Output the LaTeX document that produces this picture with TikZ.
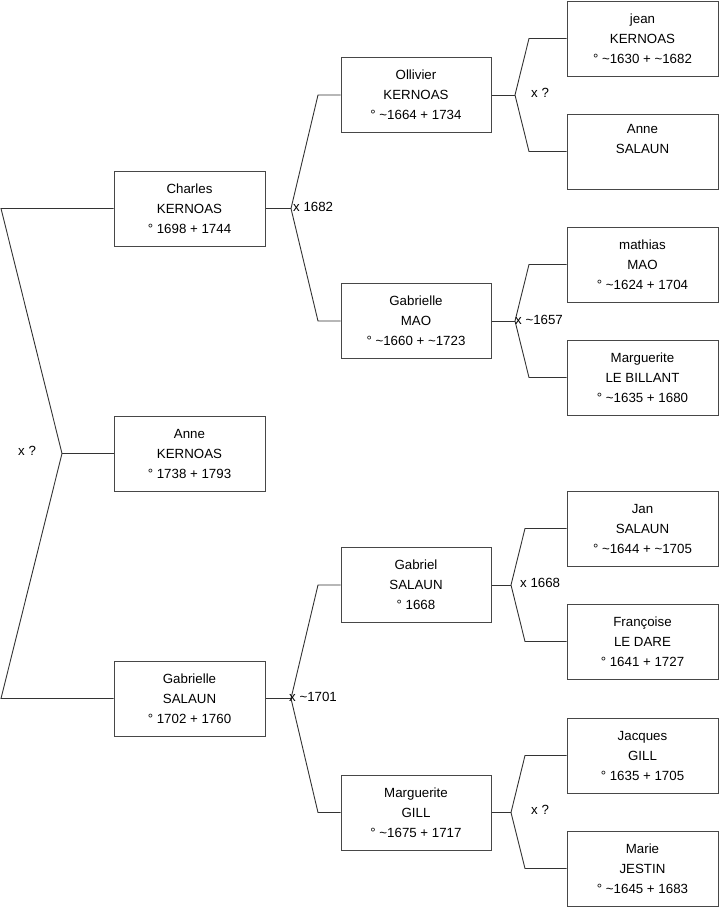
\documentclass[tikz,border=0pt]{standalone}
\usepackage{fontspec}
\setmainfont{Liberation Sans}
\newcommand\tld{\textasciitilde}
\begin{document}
\begin{tikzpicture}[x=1pt,y=-1pt,
  person/.style={draw=black!72, line width=1pt, minimum width=151pt, minimum height=75pt, inner sep=0pt, align=center, font=\fontsize{13.3}{20}\selectfont},
  link/.style={draw=black!80, line width=0.9pt},
  mlabel/.style={anchor=west, inner sep=0pt, font=\fontsize{13.3}{16}\selectfont}]
\useasboundingbox (0,0) rectangle (719,908);
% generation 1
\node[person] (charles) at (189.5,208.5) {Charles\\KERNOAS\\° 1698 + 1744};
\node[person] (anneK) at (189.5,453.5) {Anne\\KERNOAS\\° 1738 + 1793};
\node[person] (gabS) at (189.5,698.5) {Gabrielle\\SALAUN\\° 1702 + 1760};
% generation 2
\node[person, minimum width=150pt] (olliv) at (416,95) {Ollivier\\KERNOAS\\° \tld 1664 + 1734};
\node[person, minimum width=150pt] (gabM) at (416,321) {Gabrielle\\MAO\\° \tld 1660 + \tld 1723};
\node[person, minimum width=150pt] (gabriel) at (416,585) {Gabriel\\SALAUN\\° 1668};
\node[person, minimum width=150pt] (margG) at (416,812.5) {Marguerite\\GILL\\° \tld 1675 + 1717};
% generation 3
\node[person] (jean) at (642.5,38.5) {jean\\KERNOAS\\° \tld 1630 + \tld 1682};
\node[person] (anneS) at (642.5,151.5) {Anne\\SALAUN\\\strut};
\node[person] (mathias) at (642.5,264.5) {mathias\\MAO\\° \tld 1624 + 1704};
\node[person] (margLB) at (642.5,377.5) {Marguerite\\LE BILLANT\\° \tld 1635 + 1680};
\node[person] (jan) at (642.5,528.5) {Jan\\SALAUN\\° \tld 1644 + \tld 1705};
\node[person] (franc) at (642.5,641.5) {Françoise\\LE DARE\\° 1641 + 1727};
\node[person] (jacques) at (642.5,755.5) {Jacques\\GILL\\° 1635 + 1705};
\node[person] (marie) at (642.5,868.5) {Marie\\JESTIN\\° \tld 1645 + 1683};
% junction points
\coordinate (f0) at (1,208.5);
\coordinate (j0) at (62,453.5);
\coordinate (m0) at (1,698.5);
\coordinate (j1) at (291,208.5);
\coordinate (c1a) at (318,95);
\coordinate (c1b) at (318,321);
\coordinate (j2) at (515,95);
\coordinate (c2a) at (529,38.5);
\coordinate (c2b) at (529,151.5);
\coordinate (j3) at (515,321);
\coordinate (c3a) at (529,264.5);
\coordinate (c3b) at (529,377.5);
\coordinate (j4) at (291,698.5);
\coordinate (c4a) at (318,585);
\coordinate (c4b) at (318,812.5);
\coordinate (j5) at (511,585);
\coordinate (c5a) at (525,528.5);
\coordinate (c5b) at (525,641.5);
\coordinate (j6) at (511,812.5);
\coordinate (c6a) at (525,755.5);
\coordinate (c6b) at (525,868.5);
% connectors
\draw[link] (charles.west) -- (f0) -- (j0) -- (m0) -- (gabS.west);
\draw[link] (j0) -- (anneK.west);
\draw[link] (charles.east) -- (j1);
\draw[link] (olliv.west) -- (c1a) -- (j1) -- (c1b) -- (gabM.west);
\draw[link] (olliv.east) -- (j2);
\draw[link] (jean.west) -- (c2a) -- (j2) -- (c2b) -- (anneS.west);
\draw[link] (gabM.east) -- (j3);
\draw[link] (mathias.west) -- (c3a) -- (j3) -- (c3b) -- (margLB.west);
\draw[link] (gabS.east) -- (j4);
\draw[link] (gabriel.west) -- (c4a) -- (j4) -- (c4b) -- (margG.west);
\draw[link] (gabriel.east) -- (j5);
\draw[link] (jan.west) -- (c5a) -- (j5) -- (c5b) -- (franc.west);
\draw[link] (margG.east) -- (j6);
\draw[link] (jacques.west) -- (c6a) -- (j6) -- (c6b) -- (marie.west);
% marriage labels
\node[mlabel] (l0) at (18,451) {x ?};
\node[mlabel] (l1) at (293,207) {x 1682};
\node[mlabel] (l2) at (531,93) {x ?};
\node[mlabel] (l3) at (515,320) {x \tld 1657};
\node[mlabel] (l4) at (289,697) {x \tld 1701};
\node[mlabel] (l5) at (520,583) {x 1668};
\node[mlabel] (l6) at (531,810) {x ?};
\end{tikzpicture}
\end{document}
